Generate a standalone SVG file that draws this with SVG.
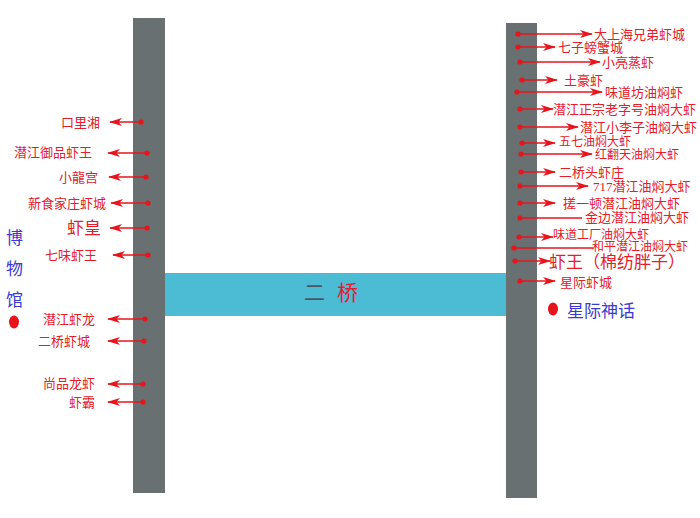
<svg xmlns="http://www.w3.org/2000/svg" width="700" height="518" viewBox="0 0 700 518">
<defs>
<marker id="ah" markerUnits="userSpaceOnUse" viewBox="0 0 13 8" refX="12" refY="4" markerWidth="13" markerHeight="8" orient="auto">
<path d="M0,0 L13,4 L0,8 L3.5,4 Z" fill="#e8141c"/>
</marker>
</defs>
<style>
.col{fill:#687072}
.bridge{fill:#4bbcd4}
text{font-family:"Liberation Serif","Noto Sans CJK SC",serif;dominant-baseline:central}
.lb{fill:#e3202a;font-size:13px}
.sm{font-size:12px}
.lbl{fill:#e3202a;font-size:17px}
.lbL{text-anchor:end}
.blue{fill:#3a3ad0;font-size:17px}
.ln{stroke:#e8141c;stroke-width:1.5;fill:none}
.arr{marker-end:url(#ah)}
.dot{fill:#e8141c}
</style>
<rect width="700" height="518" fill="#ffffff"/>
<g id="left-road"><rect class="col" x="133" y="18" width="32" height="475"/></g>
<g id="right-road"><rect class="col" x="506" y="23" width="31" height="475"/></g>
<g id="bridge"><rect class="bridge" x="165" y="273" width="341" height="43"/>
<text x="304" y="293" font-size="21" fill="#4a5666">二</text><text x="337" y="293" font-size="21" fill="#e3202a">桥</text></g>
<g id="museum">
<text class="blue" x="6" y="238">博</text>
<text class="blue" x="6" y="269">物</text>
<text class="blue" x="6" y="300">馆</text>
<ellipse class="dot" cx="14" cy="322" rx="5" ry="6.5"/>
</g>
<g id="xingji">
<ellipse class="dot" cx="553" cy="309" rx="5" ry="6.5"/>
<text class="blue" x="567" y="311">星际神话</text>
</g>
<g id="connectors">
<line class="ln arr" x1="141" y1="122" x2="110" y2="122"/>
<line class="ln arr" x1="147" y1="153" x2="108" y2="153"/>
<line class="ln arr" x1="146" y1="177" x2="109" y2="177"/>
<line class="ln arr" x1="148" y1="203" x2="111" y2="203"/>
<line class="ln arr" x1="147" y1="228" x2="110" y2="228"/>
<line class="ln arr" x1="148" y1="255" x2="113" y2="255"/>
<line class="ln arr" x1="145" y1="319" x2="108" y2="319"/>
<line class="ln arr" x1="144" y1="341" x2="108" y2="341"/>
<line class="ln arr" x1="143" y1="384" x2="108" y2="384"/>
<line class="ln arr" x1="143" y1="402" x2="108" y2="402"/>
<line class="ln arr" x1="518" y1="34" x2="592" y2="34"/>
<line class="ln arr" x1="518" y1="47" x2="555" y2="47"/>
<line class="ln arr" x1="520" y1="62" x2="600" y2="62"/>
<line class="ln arr" x1="522" y1="80" x2="557" y2="80"/>
<line class="ln arr" x1="517" y1="92" x2="602" y2="92"/>
<line class="ln arr" x1="520" y1="109" x2="553" y2="109"/>
<line class="ln arr" x1="520" y1="127" x2="578" y2="127"/>
<line class="ln arr" x1="522" y1="143" x2="555" y2="143"/>
<line class="ln arr" x1="521" y1="154" x2="592" y2="154"/>
<line class="ln arr" x1="521" y1="172" x2="555" y2="172"/>
<line class="ln arr" x1="520" y1="186" x2="588" y2="186"/>
<line class="ln arr" x1="520" y1="203" x2="555" y2="203"/>
<line class="ln" x1="520" y1="218" x2="582" y2="218"/>
<line class="ln arr" x1="519" y1="237" x2="553" y2="237"/>
<line class="ln" x1="514" y1="248" x2="593" y2="248"/>
<line class="ln arr" x1="515" y1="261" x2="550" y2="261"/>
<line class="ln arr" x1="520" y1="281" x2="555" y2="281"/>
</g>
<g id="dots">
<circle class="dot" cx="141" cy="122" r="2.6"/>
<circle class="dot" cx="147" cy="153" r="2.6"/>
<circle class="dot" cx="146" cy="177" r="2.6"/>
<circle class="dot" cx="148" cy="203" r="2.6"/>
<circle class="dot" cx="147" cy="228" r="2.6"/>
<circle class="dot" cx="148" cy="255" r="2.6"/>
<circle class="dot" cx="145" cy="319" r="2.6"/>
<circle class="dot" cx="144" cy="341" r="2.6"/>
<circle class="dot" cx="143" cy="384" r="2.6"/>
<circle class="dot" cx="143" cy="402" r="2.6"/>
<circle class="dot" cx="518" cy="34" r="2.6"/>
<circle class="dot" cx="518" cy="47" r="2.6"/>
<circle class="dot" cx="520" cy="62" r="2.6"/>
<circle class="dot" cx="522" cy="80" r="2.6"/>
<circle class="dot" cx="517" cy="92" r="2.6"/>
<circle class="dot" cx="520" cy="109" r="2.6"/>
<circle class="dot" cx="520" cy="127" r="2.6"/>
<circle class="dot" cx="522" cy="143" r="2.6"/>
<circle class="dot" cx="521" cy="154" r="2.6"/>
<circle class="dot" cx="521" cy="172" r="2.6"/>
<circle class="dot" cx="520" cy="186" r="2.6"/>
<circle class="dot" cx="520" cy="203" r="2.6"/>
<circle class="dot" cx="520" cy="218" r="2.6"/>
<circle class="dot" cx="519" cy="237" r="2.6"/>
<circle class="dot" cx="514" cy="248" r="2.6"/>
<circle class="dot" cx="515" cy="261" r="2.6"/>
<circle class="dot" cx="520" cy="281" r="2.6"/>
</g>
<g id="left-labels">
<text class="lb lbL" x="100" y="122">口里湘</text>
<text class="lb lbL" x="92" y="152">潜江御品虾王</text>
<text class="lb lbL" x="98" y="177">小龍宫</text>
<text class="lb lbL" x="106" y="203">新食家庄虾城</text>
<text class="lbl lbL" x="101" y="228">虾皇</text>
<text class="lb lbL" x="97" y="255">七味虾王</text>
<text class="lb lbL" x="95" y="319">潜江虾龙</text>
<text class="lb lbL" x="90" y="341">二桥虾城</text>
<text class="lb lbL" x="95" y="383">尚品龙虾</text>
<text class="lb lbL" x="95" y="402">虾霸</text>
</g>
<g id="right-labels">
<text class="lb" x="594" y="34">大上海兄弟虾城</text>
<text class="lb" x="558" y="47">七子螃蟹城</text>
<text class="lb" x="602" y="62">小亮蒸虾</text>
<text class="lb" x="564" y="80">土豪虾</text>
<text class="lb" x="605" y="92">味道坊油焖虾</text>
<text class="lb" x="553" y="109">潜江正宗老字号油焖大虾</text>
<text class="lb" x="580" y="127">潜江小李子油焖大虾</text>
<text class="lb sm" x="559" y="141.5">五七油焖大虾</text>
<text class="lb sm" x="595" y="155">红翻天油焖大虾</text>
<text class="lb" x="559" y="172">二桥头虾庄</text>
<text class="lb" x="593" y="186">717潜江油焖大虾</text>
<text class="lb" x="563" y="203">搓一顿潜江油焖大虾</text>
<text class="lb" x="585" y="217">金边潜江油焖大虾</text>
<text class="lb sm" x="553" y="234.5">味道工厂油焖大虾</text>
<text class="lb sm" x="592" y="247">和平潜江油焖大虾</text>
<text class="lbl" x="549" y="262">虾王（棉纺胖子）</text>
<text class="lb" x="560" y="282">星际虾城</text>
</g>
</svg>
